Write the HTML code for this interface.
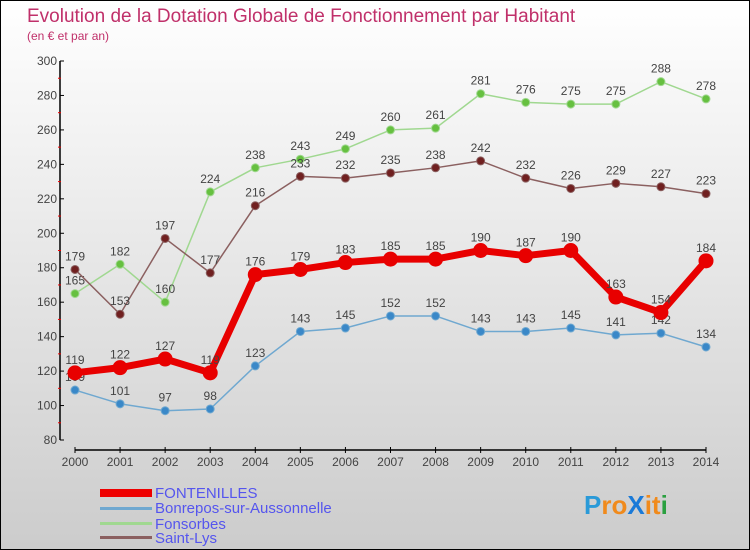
<!DOCTYPE html>
<html><head><meta charset="utf-8"><style>
html,body{margin:0;padding:0}
body{width:750px;height:550px;overflow:hidden;font-family:"Liberation Sans","DejaVu Sans",sans-serif}
svg{display:block}
</style></head><body>
<svg id="chart" width="750" height="550" xmlns="http://www.w3.org/2000/svg">
<defs><linearGradient id="bg" x1="0" y1="0" x2="0" y2="1"><stop offset="0" stop-color="#ffffff"/><stop offset="1" stop-color="#cccccc"/></linearGradient></defs>
<rect x="0.5" y="0.5" width="749" height="549" fill="url(#bg)" stroke="#000"/>
<text x="27" y="22" font-size="19" fill="#c0306a">Evolution de la Dotation Globale de Fonctionnement par Habitant</text>
<text x="27" y="40" font-size="12" fill="#c0306a">(en € et par an)</text>
<g id="axes"></g>
<g id="series"></g>
<g id="legend">
<rect x="100" y="489" width="52" height="8" fill="#e00"/>
<text x="155" y="498" font-size="15" fill="#5555ee">FONTENILLES</text>
<rect x="100" y="507" width="52" height="3" fill="#6fa8d0"/>
<text x="155" y="513" font-size="15" fill="#5555ee">Bonrepos-sur-Aussonnelle</text>
<rect x="100" y="522" width="52" height="3" fill="#a0d890"/>
<text x="155" y="529" font-size="15" fill="#5555ee">Fonsorbes</text>
<rect x="100" y="536" width="52" height="3" fill="#8b6060"/>
<text x="155" y="543" font-size="15" fill="#5555ee">Saint-Lys</text>
</g>
<g font-size="26" font-weight="bold">
<text x="584" y="514"><tspan fill="#2a9ad8">P</tspan><tspan fill="#f08a1c">ro</tspan><tspan fill="#1a7ad8">X</tspan><tspan fill="#f08a1c">i</tspan><tspan fill="#f08a1c">t</tspan><tspan fill="#2aa040">i</tspan></text>
</g>
</svg>
<script>
const years=[2000,2001,2002,2003,2004,2005,2006,2007,2008,2009,2010,2011,2012,2013,2014];
const fontenilles=[119,122,127,119,176,179,183,185,185,190,187,190,163,154,184];
const bonrepos=[109,101,97,98,123,143,145,152,152,143,143,145,141,142,134];
const fonsorbes=[165,182,160,224,238,243,249,260,261,281,276,275,275,288,278];
const saintLys=[179,153,197,177,216,233,232,235,238,242,232,226,229,227,223];
const yTicks=[80,100,120,140,160,180,200,220,240,260,280,300];
const NS="http://www.w3.org/2000/svg";
function xS(i){return 75+i*(706-75)/(years.length-1);}
function yS(v){return 440-(v-80)*(440-61)/220;}
function mk(tag,attrs,parent){const e=document.createElementNS(NS,tag);for(const k in attrs)e.setAttribute(k,attrs[k]);parent.appendChild(e);return e;}
const axes=document.getElementById('axes');
let ya=mk('line',{x1:60,y1:61,x2:60,y2:440,stroke:'#000','stroke-width':1.5},axes);


yTicks.forEach(v=>{
  mk('line',{x1:60,x2:64,y1:yS(v),y2:yS(v),stroke:'#000'},axes);
  if(v<300)mk('line',{x1:58,x2:61,y1:yS(v+10),y2:yS(v+10),stroke:'#e00'},axes);
  const t=mk('text',{x:57,y:yS(v)+4,'font-size':12,fill:'#444','text-anchor':'end'},axes);
  t.textContent=v;
  
  
});
let xa=mk('line',{x1:75,y1:450,x2:706,y2:450,stroke:'#000','stroke-width':1.5},axes);


years.forEach((y,i)=>{
  mk('line',{x1:xS(i),x2:xS(i),y1:447,y2:453,stroke:'#000'},axes);
  const t=mk('text',{x:xS(i),y:466,'font-size':12,fill:'#444','text-anchor':'middle'},axes);
  t.textContent=y;
  
  
});
const sg=document.getElementById('series');
function draw(vals,color,dot,w,r,name){
  const g=mk('g',{},sg);
  
  
  const pts=vals.map((v,i)=>xS(i)+','+yS(v)).join(' ');
  mk('polyline',{points:pts,fill:'none',stroke:color,'stroke-width':w,'stroke-linejoin':'round'},g);
  vals.forEach((v,i)=>{
    const c=mk('circle',{cx:xS(i),cy:yS(v),r:r,fill:dot,stroke:color,'stroke-width':1},g);
    
    
    const t=mk('text',{x:xS(i),y:yS(v)-9,'font-size':12,fill:'#444','text-anchor':'middle'},g);
    t.textContent=v;
    
    
  });
}
draw(bonrepos,'#6fa8d0','#3a88c8',1.5,4,'bonrepos');
draw(fonsorbes,'#a0d890','#66c040',1.5,4,'fonsorbes');
draw(saintLys,'#8b6060','#702020',1.5,4,'saint-lys');
draw(fontenilles,'#e80000','#e80000',7,7,'fontenilles');
</script>
</body></html>
